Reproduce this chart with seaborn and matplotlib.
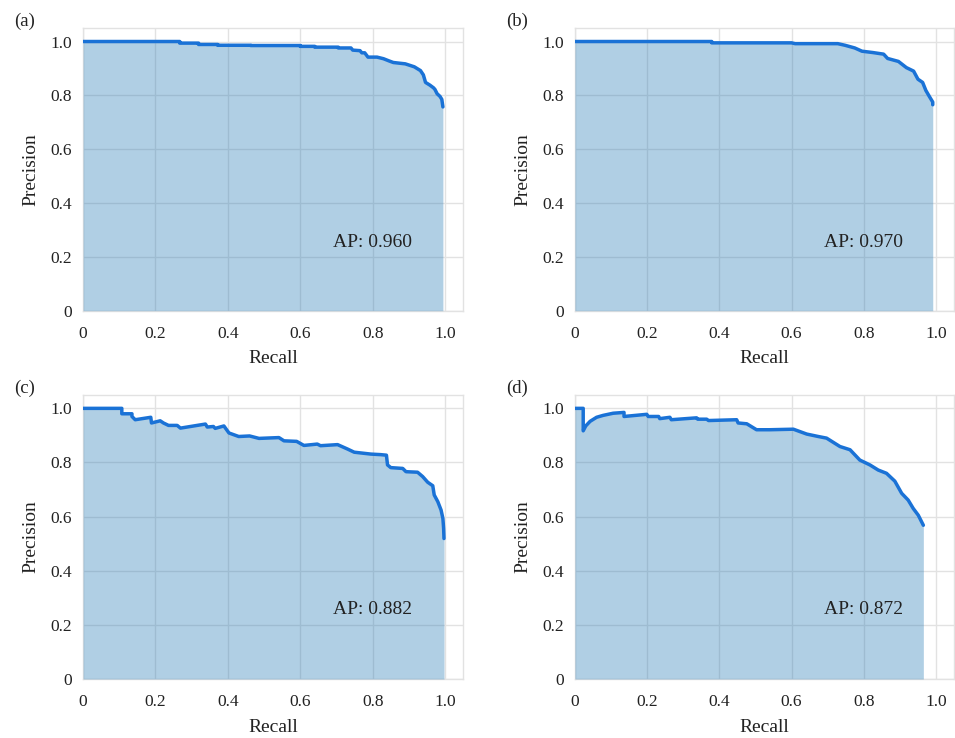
import numpy as np
import pandas as pd
import seaborn as sns
import matplotlib
matplotlib.use("Agg")
import matplotlib.pyplot as plt
from matplotlib.ticker import FuncFormatter

# precision-recall curves
recall_a = [0, 0.267, 0.267, 0.319, 0.319, 0.372, 0.372, 0.463, 0.463, 0.600, 0.600, 0.640, 0.640,
            0.705, 0.705, 0.740, 0.745, 0.765, 0.770, 0.778, 0.787, 0.812, 0.830, 0.845, 0.857, 0.890,
            0.915, 0.932, 0.940, 0.946, 0.958, 0.968, 0.972, 0.978, 0.986, 0.991, 0.994]
precision_a = [1.0, 1.0, 0.994, 0.994, 0.989, 0.989, 0.986, 0.986, 0.985, 0.985, 0.982, 0.982, 0.979,
               0.979, 0.976, 0.976, 0.968, 0.966, 0.958, 0.958, 0.942, 0.942, 0.936, 0.928, 0.922, 0.917,
               0.906, 0.892, 0.876, 0.848, 0.838, 0.828, 0.822, 0.806, 0.796, 0.785, 0.757]

recall_b = [0, 0.379, 0.379, 0.600, 0.610, 0.728, 0.748, 0.775, 0.795, 0.825, 0.855, 0.866, 0.896,
            0.918, 0.938, 0.950, 0.963, 0.972, 0.982, 0.991, 0.991]
precision_b = [1.0, 1.0, 0.995, 0.995, 0.992, 0.992, 0.986, 0.976, 0.964, 0.959, 0.953, 0.937, 0.926,
               0.903, 0.890, 0.860, 0.848, 0.818, 0.795, 0.775, 0.765]

recall_c = [0, 0.107, 0.107, 0.135, 0.135, 0.144, 0.187, 0.189, 0.213, 0.222, 0.236, 0.260, 0.269,
            0.338, 0.343, 0.360, 0.365, 0.389, 0.403, 0.430, 0.460, 0.486, 0.541, 0.555, 0.590, 0.610,
            0.647, 0.656, 0.703, 0.730, 0.749, 0.795, 0.822, 0.838, 0.841, 0.850, 0.883, 0.892, 0.924,
            0.938, 0.952, 0.966, 0.970, 0.980, 0.989, 0.994, 0.996, 0.997]
precision_c = [1.0, 1.0, 0.980, 0.980, 0.970, 0.958, 0.967, 0.946, 0.954, 0.946, 0.937, 0.937, 0.927,
               0.942, 0.931, 0.933, 0.926, 0.935, 0.909, 0.896, 0.898, 0.889, 0.892, 0.880, 0.878, 0.863,
               0.868, 0.862, 0.866, 0.850, 0.838, 0.831, 0.829, 0.827, 0.791, 0.781, 0.778, 0.766, 0.764,
               0.748, 0.727, 0.714, 0.680, 0.655, 0.624, 0.593, 0.556, 0.519]

recall_d = [0, 0.023, 0.023, 0.030, 0.042, 0.060, 0.078, 0.106, 0.136, 0.136, 0.199, 0.203, 0.232,
            0.235, 0.263, 0.267, 0.337, 0.340, 0.365, 0.370, 0.448, 0.452, 0.476, 0.503, 0.540, 0.605,
            0.642, 0.674, 0.697, 0.734, 0.762, 0.789, 0.817, 0.840, 0.863, 0.886, 0.905, 0.923, 0.937,
            0.951, 0.965]
precision_d = [1.0, 1.0, 0.917, 0.935, 0.952, 0.967, 0.974, 0.982, 0.985, 0.970, 0.978, 0.970, 0.970,
               0.962, 0.967, 0.958, 0.965, 0.960, 0.960, 0.955, 0.958, 0.946, 0.943, 0.921, 0.921, 0.923,
               0.905, 0.896, 0.890, 0.859, 0.847, 0.809, 0.791, 0.772, 0.760, 0.731, 0.686, 0.661, 0.630,
               0.605, 0.568]

panel_labels = ["(a)", "(b)", "(c)", "(d)"]
ap_values = [0.960, 0.970, 0.882, 0.872]
ticks = [0, 0.2, 0.4, 0.6, 0.8, 1.0]

sns.set_theme(style="whitegrid", rc={"grid.color": "#e2e2e2", "axes.edgecolor": "#e2e2e2",
                                     "axes.linewidth": 1.0, "grid.linewidth": 1.0})
plt.rcParams["font.family"] = ["Liberation Serif", "DejaVu Serif"]

fig = plt.figure(figsize=(9.55, 7.38), dpi=100)
positions = [[0.087, 0.579, 0.398, 0.383], [0.602, 0.579, 0.397, 0.383],
             [0.087, 0.080, 0.398, 0.385], [0.602, 0.080, 0.397, 0.385]]
curves = [(recall_a, precision_a), (recall_b, precision_b), (recall_c, precision_c), (recall_d, precision_d)]

fmt = FuncFormatter(lambda v, p: "0" if abs(v) < 1e-9 else f"{v:.1f}")

for i, (r, p) in enumerate(curves):
    ax = fig.add_axes(positions[i])
    df = pd.DataFrame({"Recall": r, "Precision": p})
    ax.fill_between(df["Recall"], df["Precision"], 0, color="#1f77b4", alpha=0.35, lw=0, zorder=3)
    sns.lineplot(data=df, x="Recall", y="Precision", sort=False, estimator=None,
                 color="#1a72d6", lw=2.5, ax=ax, zorder=4)
    ax.set_xlim(0, 1.05)
    ax.set_ylim(0, 1.05)
    ax.set_xticks(ticks)
    ax.set_yticks(ticks)
    ax.xaxis.set_major_formatter(fmt)
    ax.yaxis.set_major_formatter(fmt)
    ax.tick_params(axis="both", labelsize=12.5, colors="#222222")
    ax.tick_params(axis="x", pad=5)
    ax.tick_params(axis="y", pad=2)
    ax.set_xlabel("Recall", fontsize=14, labelpad=6, color="#222222")
    ax.set_ylabel("Precision", fontsize=14, labelpad=8, color="#222222")
    ax.text(0.8, 0.255, f"AP: {ap_values[i]:.3f}", ha="center", va="center", fontsize=14,
            color="#222222", zorder=5)
    bb = ax.get_position()
    fig.text(bb.x0 - 0.061, bb.y1 + 0.009, panel_labels[i], fontsize=13.5, color="#222222",
             ha="center", va="center")

fig.savefig("out.png", dpi=100)
